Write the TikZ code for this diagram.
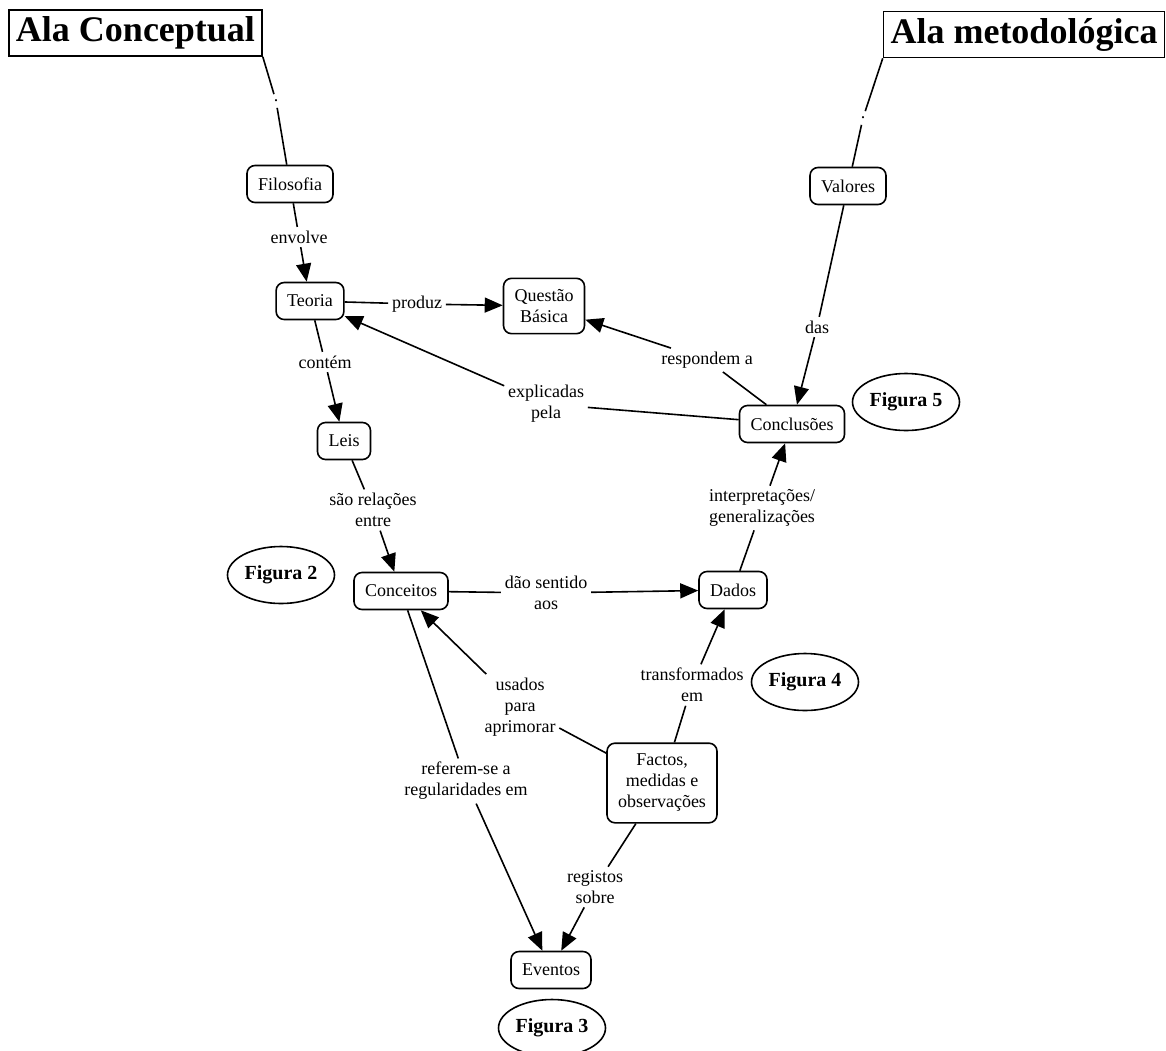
\documentclass[tikz,border=0pt]{standalone}
\usepackage{fontspec}
\setmainfont{Liberation Serif}
\usetikzlibrary{arrows.meta,shapes.geometric}
\begin{document}
\begin{tikzpicture}[x=1pt, y=-1pt, line width=1.6pt,
  font=\fontsize{18}{21}\selectfont,
  concept/.style={draw, rounded corners=8pt, align=center, inner xsep=11pt, inner ysep=11pt, minimum height=37pt},
  wing/.style={draw, font=\fontsize{36}{40}\selectfont\bfseries, inner xsep=7pt, inner ysep=6pt, minimum height=46pt},
  figlabel/.style={draw, ellipse, font=\fontsize{20}{24}\selectfont\bfseries, minimum width=107pt, minimum height=57pt, inner sep=0pt},
  linklbl/.style={align=center, inner sep=3pt},
  link/.style={-{Triangle[length=18pt,width=15pt]}}]
\useasboundingbox (0,0) rectangle (1166,1050);
\clip (0,0) rectangle (1166,1050);
% wings
\node[wing] (tConc) at (135.5,33) {Ala Conceptual};
\node[wing] (tMet) at (1024,34.5) {Ala metodológica};
% concepts
\node[concept] (Filosofia) at (290,184) {Filosofia};
\node[concept] (Valores) at (848,186) {Valores};
\node[concept] (Teoria) at (310,301) {Teoria};
\node[concept] (Questao) at (544,306) {Questão\\Básica};
\node[concept] (Leis) at (344,441) {Leis};
\node[concept] (Conclusoes) at (792,424) {Conclusões};
\node[concept] (Conceitos) at (401,591) {Conceitos};
\node[concept] (Dados) at (733,590) {Dados};
\node[concept] (Factos) at (662,783) {Factos,\\medidas e\\observações};
\node[concept] (Eventos) at (551,970) {Eventos};
% figure tags
\node[figlabel] (fig2) at (281,575) {Figura 2};
\node[figlabel] (fig3) at (552,1028) {Figura 3};
\node[figlabel] (fig4) at (805,682) {Figura 4};
\node[figlabel] (fig5) at (906,402) {Figura 5};
% link labels
\node[linklbl, inner sep=5pt] (dotC) at (276,101) {.};
\node[linklbl, inner sep=5pt] (dotM) at (863,118) {.};
\node[linklbl] (lEnvolve) at (299,237) {envolve};
\node[linklbl] (lProduz) at (417,304) {produz};
\node[linklbl] (lContem) at (325,362) {contém};
\node[linklbl] (lExpl) at (546,404) {explicadas\\pela};
\node[linklbl] (lResp) at (707,360) {respondem a};
\node[linklbl] (lDas) at (817,327) {das};
\node[linklbl] (lSao) at (373,510) {são relações\\entre};
\node[linklbl] (lDao) at (546,593) {dão sentido\\aos};
\node[linklbl] (lInterp) at (762,508) {interpretações/\\generalizações};
\node[linklbl] (lTransf) at (692,685) {transformados\\em};
\node[linklbl] (lUsados) at (520,707) {usados\\para\\aprimorar};
\node[linklbl] (lRefer) at (466,781) {referem-se a\\regularidades em};
\node[linklbl] (lReg) at (595,887) {registos\\sobre};
% connectors
\draw (tConc.south east) -- (dotC) -- (Filosofia);
\draw (tMet.south west) -- (dotM) -- (Valores);
\draw[link] (Filosofia) -- (lEnvolve) -- (Teoria);
\draw[link] (Teoria) -- (lProduz) -- (Questao);
\draw[link] (Teoria) -- (lContem) -- (Leis);
\draw[link] (Conclusoes) -- (lExpl) -- (Teoria);
\draw[link] (Conclusoes) -- (lResp) -- (Questao);
\draw[link] (Valores) -- (lDas) -- (Conclusoes);
\draw[link] (Leis) -- (lSao) -- (Conceitos);
\draw[link] (Conceitos) -- (lDao) -- (Dados);
\draw[link] (Dados) -- (lInterp) -- (Conclusoes);
\draw[link] (Factos) -- (lTransf) -- (Dados);
\draw[link] (Factos) -- (lUsados) -- (Conceitos);
\draw[link] (Conceitos) -- (lRefer) -- (Eventos);
\draw[link] (Factos) -- (lReg) -- (Eventos);
\end{tikzpicture}
\end{document}
